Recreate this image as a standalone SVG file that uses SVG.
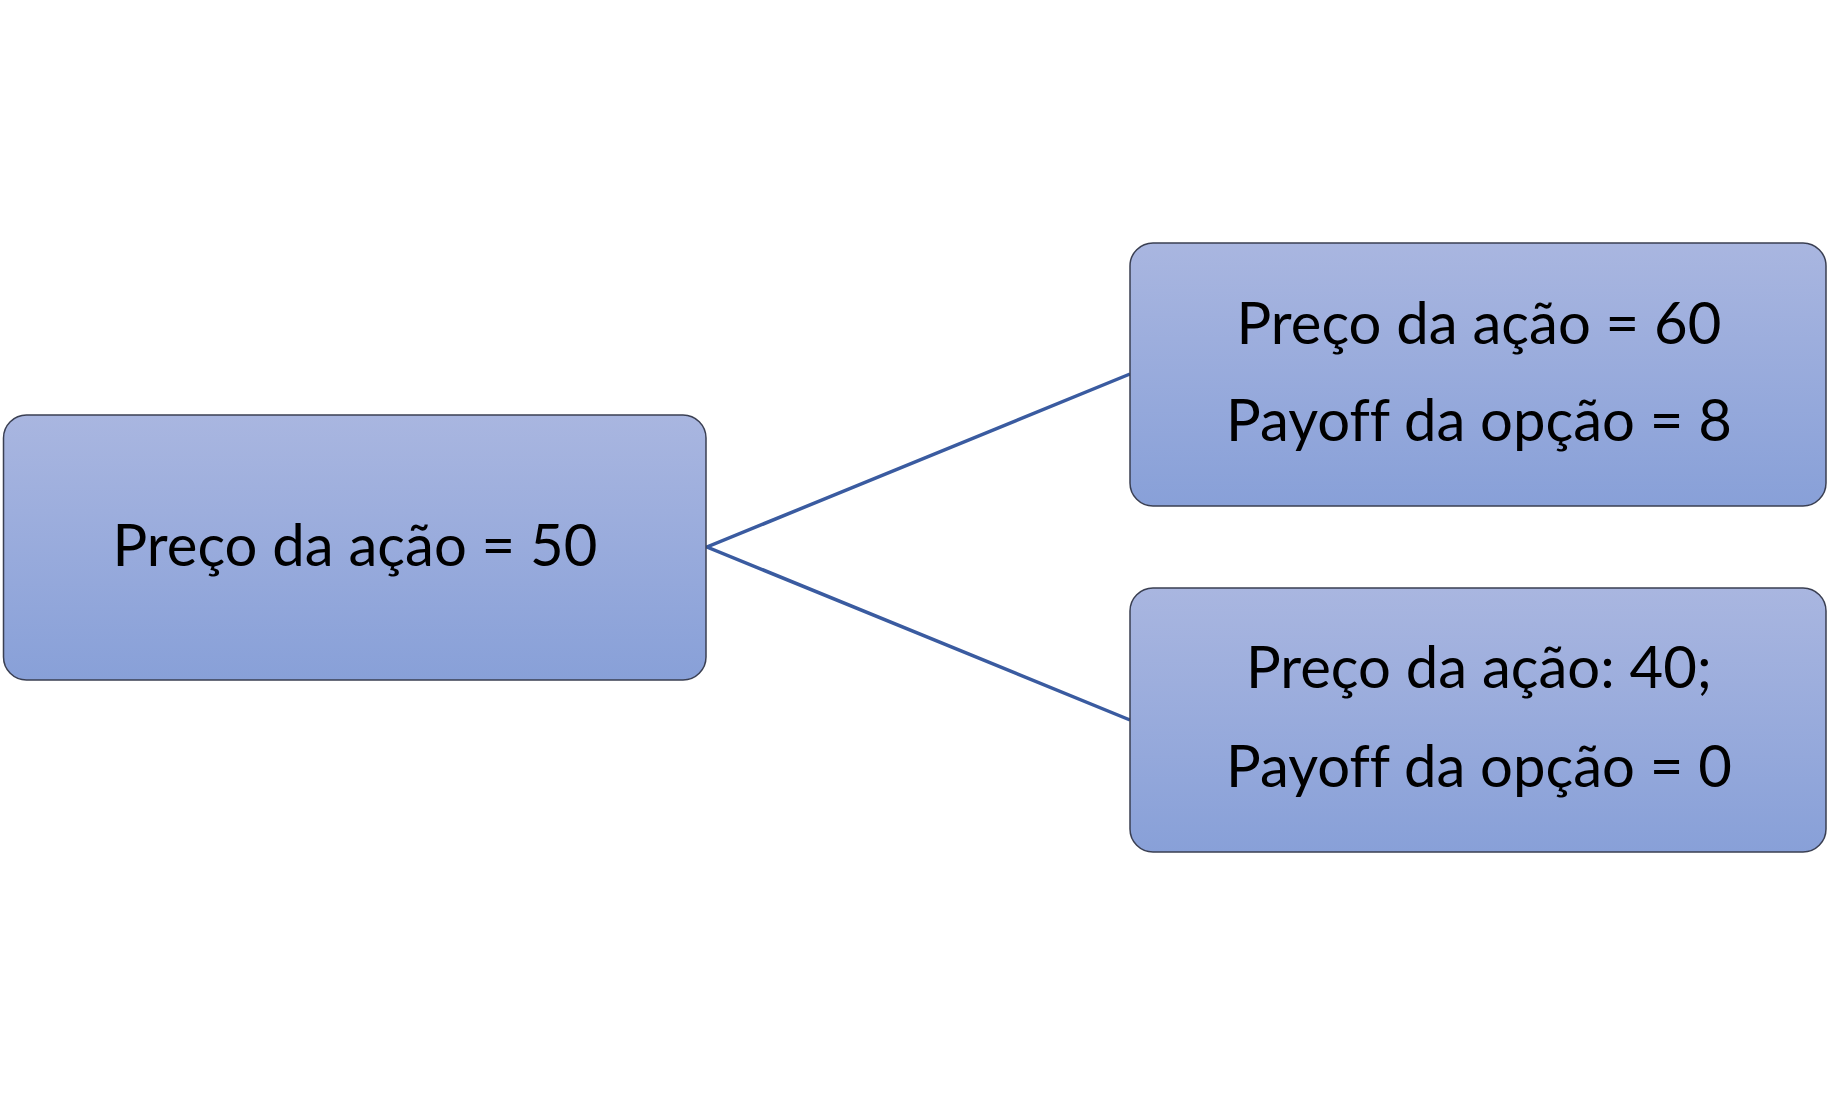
<svg xmlns="http://www.w3.org/2000/svg" width="1829" height="1095" viewBox="0 0 1829 1095">
<defs>
<linearGradient id="g" x1="0" y1="0" x2="0" y2="1">
<stop offset="0" stop-color="#A9B6E0"/>
<stop offset="1" stop-color="#88A0D8"/>
</linearGradient>
</defs>
<style>
.box{fill:url(#g);stroke:#3a3f52;stroke-width:1.5}
.t{font-family:Lato,"Open Sans",sans-serif;font-size:58px;fill:#000;text-anchor:middle;font-variant-ligatures:none}
.c{stroke:#3A5BA0;stroke-width:3.5;fill:none}
</style>
<rect width="1829" height="1095" fill="#fff"/>
<g id="connectors">
<polyline class="c" points="1130,374 707,547 1130,720"/>
</g>
<g id="root">
<rect class="box" x="3.5" y="415" width="702.5" height="265" rx="23"/>
<text class="t" x="355" y="566">Preço da ação = 50</text>
</g>
<g id="up">
<rect class="box" x="1130" y="243" width="696" height="263" rx="23"/>
<text class="t" x="1479" y="344">Preço da ação = 60</text>
<text class="t" x="1479" y="441">Payoff da opção = 8</text>
</g>
<g id="down">
<rect class="box" x="1130" y="588" width="696" height="264" rx="23"/>
<text class="t" x="1479" y="688">Preço da ação: 40;</text>
<text class="t" x="1479" y="787">Payoff da opção = 0</text>
</g>
</svg>
